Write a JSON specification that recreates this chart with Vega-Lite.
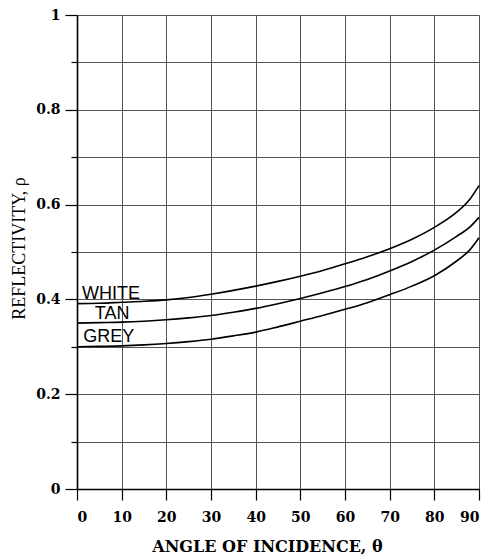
{
  "$schema": "https://vega.github.io/schema/vega-lite/v6.json",
  "width": 402,
  "height": 474,
  "autosize": "none",
  "padding": {"left": 77, "top": 15, "right": 11, "bottom": 70},
  "background": "white",
  "config": {"view": {"stroke": null}},
  "datasets": {
    "curves": [
      {"angle": 0, "rho": 0.391, "surface": "WHITE"},
      {"angle": 5, "rho": 0.392, "surface": "WHITE"},
      {"angle": 10, "rho": 0.394, "surface": "WHITE"},
      {"angle": 15, "rho": 0.396, "surface": "WHITE"},
      {"angle": 20, "rho": 0.399, "surface": "WHITE"},
      {"angle": 25, "rho": 0.404, "surface": "WHITE"},
      {"angle": 30, "rho": 0.411, "surface": "WHITE"},
      {"angle": 35, "rho": 0.419, "surface": "WHITE"},
      {"angle": 40, "rho": 0.428, "surface": "WHITE"},
      {"angle": 45, "rho": 0.438, "surface": "WHITE"},
      {"angle": 50, "rho": 0.449, "surface": "WHITE"},
      {"angle": 55, "rho": 0.461, "surface": "WHITE"},
      {"angle": 60, "rho": 0.475, "surface": "WHITE"},
      {"angle": 65, "rho": 0.49, "surface": "WHITE"},
      {"angle": 70, "rho": 0.507, "surface": "WHITE"},
      {"angle": 75, "rho": 0.527, "surface": "WHITE"},
      {"angle": 80, "rho": 0.552, "surface": "WHITE"},
      {"angle": 85, "rho": 0.584, "surface": "WHITE"},
      {"angle": 88, "rho": 0.612, "surface": "WHITE"},
      {"angle": 90, "rho": 0.64, "surface": "WHITE"},
      {"angle": 0, "rho": 0.35, "surface": "TAN"},
      {"angle": 5, "rho": 0.351, "surface": "TAN"},
      {"angle": 10, "rho": 0.352, "surface": "TAN"},
      {"angle": 15, "rho": 0.354, "surface": "TAN"},
      {"angle": 20, "rho": 0.357, "surface": "TAN"},
      {"angle": 25, "rho": 0.361, "surface": "TAN"},
      {"angle": 30, "rho": 0.366, "surface": "TAN"},
      {"angle": 35, "rho": 0.373, "surface": "TAN"},
      {"angle": 40, "rho": 0.381, "surface": "TAN"},
      {"angle": 45, "rho": 0.391, "surface": "TAN"},
      {"angle": 50, "rho": 0.402, "surface": "TAN"},
      {"angle": 55, "rho": 0.414, "surface": "TAN"},
      {"angle": 60, "rho": 0.427, "surface": "TAN"},
      {"angle": 65, "rho": 0.442, "surface": "TAN"},
      {"angle": 70, "rho": 0.46, "surface": "TAN"},
      {"angle": 75, "rho": 0.48, "surface": "TAN"},
      {"angle": 80, "rho": 0.504, "surface": "TAN"},
      {"angle": 85, "rho": 0.533, "surface": "TAN"},
      {"angle": 88, "rho": 0.553, "surface": "TAN"},
      {"angle": 90, "rho": 0.573, "surface": "TAN"},
      {"angle": 0, "rho": 0.3, "surface": "GREY"},
      {"angle": 5, "rho": 0.301, "surface": "GREY"},
      {"angle": 10, "rho": 0.302, "surface": "GREY"},
      {"angle": 15, "rho": 0.304, "surface": "GREY"},
      {"angle": 20, "rho": 0.307, "surface": "GREY"},
      {"angle": 25, "rho": 0.311, "surface": "GREY"},
      {"angle": 30, "rho": 0.316, "surface": "GREY"},
      {"angle": 35, "rho": 0.323, "surface": "GREY"},
      {"angle": 40, "rho": 0.331, "surface": "GREY"},
      {"angle": 45, "rho": 0.342, "surface": "GREY"},
      {"angle": 50, "rho": 0.354, "surface": "GREY"},
      {"angle": 55, "rho": 0.366, "surface": "GREY"},
      {"angle": 60, "rho": 0.379, "surface": "GREY"},
      {"angle": 65, "rho": 0.393, "surface": "GREY"},
      {"angle": 70, "rho": 0.41, "surface": "GREY"},
      {"angle": 75, "rho": 0.428, "surface": "GREY"},
      {"angle": 80, "rho": 0.45, "surface": "GREY"},
      {"angle": 85, "rho": 0.481, "surface": "GREY"},
      {"angle": 88, "rho": 0.505, "surface": "GREY"},
      {"angle": 90, "rho": 0.53, "surface": "GREY"}
    ],
    "labels": [
      {"angle": 1.1, "rho": 0.4, "surface": "WHITE"},
      {"angle": 4.0, "rho": 0.359, "surface": "TAN"},
      {"angle": 1.4, "rho": 0.311, "surface": "GREY"}
    ]
  },
  "layer": [
    {
      "data": {"name": "curves"},
      "mark": {"type": "line", "color": "black", "strokeWidth": 1.6, "interpolate": "monotone"},
      "encoding": {
        "x": {
          "field": "angle", "type": "quantitative",
          "scale": {"domain": [0, 90], "nice": false},
          "axis": {
            "values": [0, 10, 20, 30, 40, 50, 60, 70, 80, 90],
            "title": "ANGLE OF INCIDENCE, θ",
            "titleFont": "DejaVu Serif", "titleFontWeight": "bold", "titleFontSize": 16, "titleColor": "black",
            "titleX": 190, "titleY": 62, "titleAlign": "center", "titleBaseline": "alphabetic",
            "labelFont": "DejaVu Serif", "labelFontWeight": "bold", "labelFontSize": 14, "labelColor": "black",
            "labelPadding": 10,
            "tickSize": 11, "tickColor": "black", "tickWidth": 1.2,
            "domainColor": "black", "domainWidth": 1.6,
            "grid": true, "gridColor": "#555", "gridWidth": 1, "gridOpacity": 1
          }
        },
        "y": {
          "field": "rho", "type": "quantitative",
          "scale": {"domain": [0, 1], "nice": false},
          "axis": {
            "values": [0, 0.1, 0.2, 0.3, 0.4, 0.5, 0.6, 0.7, 0.8, 0.9, 1],
            "labelExpr": "round(datum.value*10) % 2 == 0 ? (round(datum.value*10) == 0 ? '0' : round(datum.value*10) == 10 ? '1' : '0.' + round(datum.value*10)) : ''",
            "title": "REFLECTIVITY, ρ",
            "titleFont": "Liberation Serif", "titleFontWeight": "normal", "titleFontSize": 18, "titleColor": "black",
            "titleX": -58, "titleY": 233, "titleAlign": "center", "titleBaseline": "middle", "titleAngle": -90,
            "labelFont": "DejaVu Serif", "labelFontWeight": "bold", "labelFontSize": 14, "labelColor": "black",
            "tickSize": {"condition": {"test": "round(datum.value*10) % 2 == 0", "value": 12}, "value": 6},
            "labelPadding": 5,
            "tickColor": "black", "tickWidth": 1.2,
            "domainColor": "black", "domainWidth": 1.6,
            "grid": true, "gridColor": "#555", "gridWidth": 1, "gridOpacity": 1
          }
        },
        "detail": {"field": "surface"}
      }
    },
    {
      "data": {"name": "labels"},
      "mark": {"type": "text", "align": "left", "baseline": "alphabetic", "font": "Liberation Sans", "fontSize": 18, "color": "black"},
      "encoding": {
        "x": {"field": "angle", "type": "quantitative"},
        "y": {"field": "rho", "type": "quantitative"},
        "text": {"field": "surface"}
      }
    }
  ]
}
